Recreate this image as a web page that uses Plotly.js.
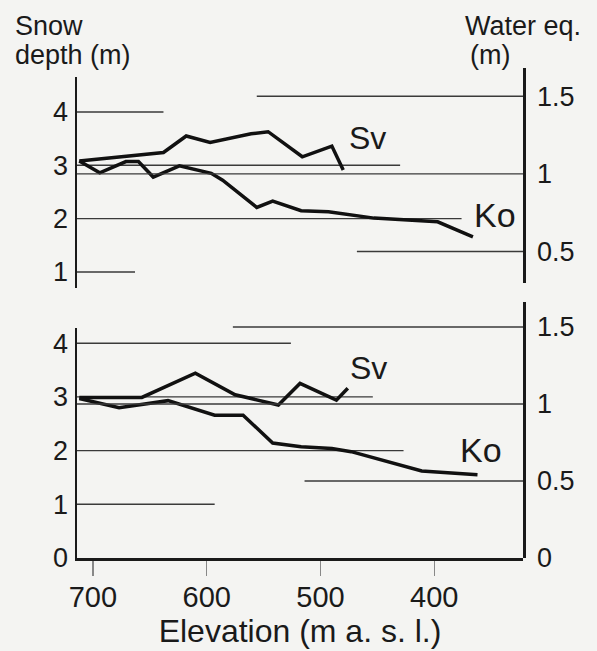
<!DOCTYPE html>
<html><head><meta charset="utf-8">
<script src="https://cdn.plot.ly/plotly-3.0.1.min.js"></script>
<style>html,body{margin:0;padding:0;background:#f4f4f2}</style>
</head><body><div id="chart" style="width:597px;height:651px"></div>
<script>
// ---- data ----
// Top panel
const svTopElev  = [712, 638, 618, 597, 561, 546, 516, 490, 480];
const svTopDepth = [3.08, 3.24, 3.55, 3.43, 3.59, 3.63, 3.16, 3.36, 2.91];
const koTopElev  = [712, 694, 671, 660, 647, 624, 596, 586, 556, 542, 517, 493, 453, 397, 366];
const koTopDepth = [3.08, 2.86, 3.07, 3.07, 2.78, 2.99, 2.85, 2.72, 2.21, 2.33, 2.15, 2.13, 2.01, 1.94, 1.66];
// Bottom panel
const svBotElev  = [712, 657, 610, 575, 537, 518, 486, 476];
const svBotDepth = [2.99, 2.99, 3.44, 3.04, 2.85, 3.25, 2.94, 3.16];
const koBotElev  = [712, 677, 634, 593, 568, 542, 517, 490, 473, 411, 362];
const koBotDepth = [2.97, 2.80, 2.93, 2.66, 2.66, 2.14, 2.07, 2.04, 1.98, 1.62, 1.55];

// partial reference lines: snow-depth levels running from the left axis to an elevation,
// water-eq. levels running from an elevation to the right axis
const topDepthLevels = [4, 3, 2, 1];
const topDepthEnds   = [638, 430, 376, 663];
const topWaterLevels = [1.5, 1, 0.5];
const topWaterStarts = [556, 714, 468];
const botDepthLevels = [4, 3, 2, 1];
const botDepthEnds   = [526, 454, 427, 593];
const botWaterLevels = [1.5, 1, 0.5];
const botWaterStarts = [577, 714, 514];

const elevTicks = [700, 600, 500, 400];
const depthTicksTop = [1, 2, 3, 4];
const depthTicksBot = [0, 1, 2, 3, 4];
const waterTicksTop = [0.5, 1, 1.5];
const waterTicksBot = [0, 0.5, 1, 1.5];

const xLeft = 714, xRight = 322;

function segments(levels, starts, ends) {
  const xs = [], ys = [];
  levels.forEach((lv, i) => { xs.push(starts[i], ends[i], null); ys.push(lv, lv, null); });
  return {x: xs, y: ys};
}

const FONT = 'Liberation Sans, Arial, Helvetica, sans-serif';
const segStyle = {color: '#3a3a3a', width: 1.4};
const dataStyle = {color: '#111', width: 3.5};

const tl = segments(topDepthLevels, topDepthLevels.map(() => xLeft), topDepthEnds);
const tr = segments(topWaterLevels, topWaterStarts, topWaterLevels.map(() => xRight));
const bl = segments(botDepthLevels, botDepthLevels.map(() => xLeft), botDepthEnds);
const br = segments(botWaterLevels, botWaterStarts, botWaterLevels.map(() => xRight));

const traces = [
  {x: tl.x, y: tl.y, xaxis: 'x', yaxis: 'y3', mode: 'lines', line: segStyle, hoverinfo: 'skip'},
  {x: tr.x, y: tr.y, xaxis: 'x', yaxis: 'y4', mode: 'lines', line: segStyle, hoverinfo: 'skip'},
  {x: bl.x, y: bl.y, xaxis: 'x', yaxis: 'y',  mode: 'lines', line: segStyle, hoverinfo: 'skip'},
  {x: br.x, y: br.y, xaxis: 'x', yaxis: 'y2', mode: 'lines', line: segStyle, hoverinfo: 'skip'},
  {x: svTopElev, y: svTopDepth, xaxis: 'x', yaxis: 'y3', mode: 'lines', name: 'Sv', line: dataStyle},
  {x: koTopElev, y: koTopDepth, xaxis: 'x', yaxis: 'y3', mode: 'lines', name: 'Ko', line: dataStyle},
  {x: svBotElev, y: svBotDepth, xaxis: 'x', yaxis: 'y', mode: 'lines', name: 'Sv', line: dataStyle},
  {x: koBotElev, y: koBotDepth, xaxis: 'x', yaxis: 'y', mode: 'lines', name: 'Ko', line: dataStyle}
];

const axisLine = {showline: true, linecolor: '#1a1a1a', linewidth: 2.5, showgrid: false, zeroline: false, ticks: '', fixedrange: true};
const yTickFont = {family: FONT, size: 27, color: '#1a1a1a'};

const layout = {
  width: 597, height: 651,
  margin: {l: 77, r: 74, t: 68, b: 93, pad: 0},
  paper_bgcolor: '#f4f4f2', plot_bgcolor: 'rgba(0,0,0,0)',
  showlegend: false,
  font: {family: FONT, color: '#1a1a1a'},
  xaxis: Object.assign({}, axisLine, {
    range: [xLeft, xRight], domain: [0, 1], anchor: 'y',
    tickmode: 'array', tickvals: elevTicks,
    ticks: 'outside', ticklen: 15, tickwidth: 1.5, tickcolor: '#888',
    tickfont: {family: FONT, size: 29, color: '#1a1a1a'}, ticklabelstandoff: -3,
    title: {text: 'Elevation (m a. s. l.)', font: {family: FONT, size: 32, color: '#1a1a1a'}, standoff: 8}
  }),
  yaxis: Object.assign({}, axisLine, {
    domain: [0, 0.4694], range: [0, 4.283], anchor: 'x', side: 'left',
    tickmode: 'array', tickvals: depthTicksBot, tickfont: yTickFont, ticklabelstandoff: 1
  }),
  yaxis2: Object.assign({}, axisLine, {
    domain: [0, 0.5224], range: [0, 1.662], anchor: 'x', side: 'right',
    tickmode: 'array', tickvals: waterTicksBot, ticktext: waterTicksBot.map(String),
    tickfont: yTickFont, ticklabelstandoff: 6
  }),
  yaxis3: Object.assign({}, axisLine, {
    domain: [0.5504, 0.981], range: [0.694, 4.65], anchor: 'x', side: 'left',
    tickmode: 'array', tickvals: depthTicksTop, tickfont: yTickFont, ticklabelstandoff: 1
  }),
  yaxis4: Object.assign({}, axisLine, {
    domain: [0.5606, 1.0], range: [0.295, 1.682], anchor: 'x', side: 'right',
    tickmode: 'array', tickvals: waterTicksTop, ticktext: waterTicksTop.map(String),
    tickfont: yTickFont, ticklabelstandoff: 6
  }),
  annotations: [
    {text: 'Snow', xref: 'paper', yref: 'paper', x: -0.1435, y: 1.0857, xanchor: 'left', yanchor: 'middle', showarrow: false, font: {size: 27}},
    {text: 'depth (m)', xref: 'paper', yref: 'paper', x: -0.1435, y: 1.0265, xanchor: 'left', yanchor: 'middle', showarrow: false, font: {size: 27}},
    {text: 'Water eq.', xref: 'paper', yref: 'paper', x: 1.1345, y: 1.0857, xanchor: 'right', yanchor: 'middle', showarrow: false, font: {size: 27}},
    {text: '(m)', xref: 'paper', yref: 'paper', x: 0.9753, y: 1.0265, xanchor: 'right', yanchor: 'middle', showarrow: false, font: {size: 27}},
    {text: 'Sv', xref: 'x', yref: 'y3', x: 459, y: 3.51, xanchor: 'center', yanchor: 'middle', showarrow: false, font: {size: 32}},
    {text: 'Ko', xref: 'x', yref: 'y3', x: 347, y: 2.06, xanchor: 'center', yanchor: 'middle', showarrow: false, font: {size: 34}},
    {text: 'Sv', xref: 'x', yref: 'y', x: 458, y: 3.53, xanchor: 'center', yanchor: 'middle', showarrow: false, font: {size: 32}},
    {text: 'Ko', xref: 'x', yref: 'y', x: 359, y: 2.02, xanchor: 'center', yanchor: 'middle', showarrow: false, font: {size: 34}}
  ]
};

Plotly.newPlot('chart', traces, layout, {staticPlot: true, displayModeBar: false});
</script></body></html>
